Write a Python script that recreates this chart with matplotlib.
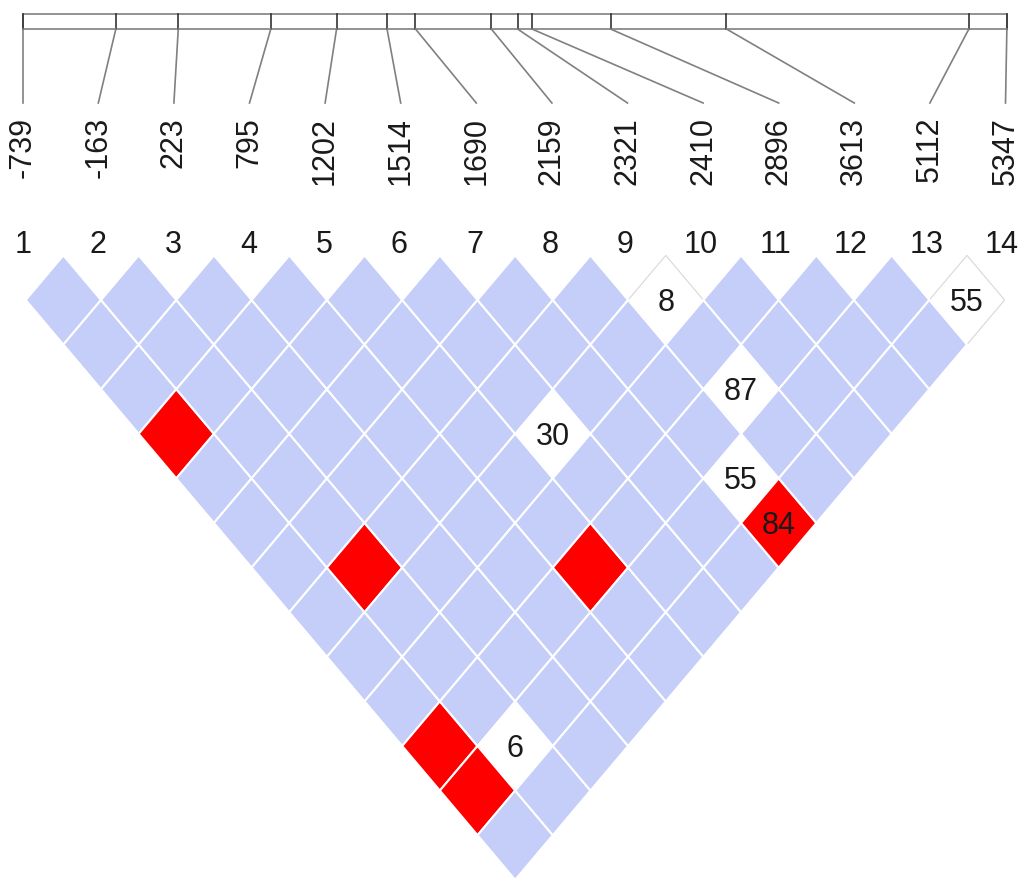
import numpy as np
import matplotlib
matplotlib.use("Agg")
import matplotlib.pyplot as plt
from matplotlib.patches import Polygon, Rectangle

# markers and their physical positions
marker_ids = list(range(1, 15))
positions = [-739, -163, 223, 795, 1202, 1514, 1690, 2159, 2321, 2410, 2896, 3613, 5112, 5347]

# pairs that are not the default light blue
white_pairs = [(9, 10), (13, 14), (9, 12), (6, 10), (8, 13), (2, 13)]
white_vals = [8, 55, 87, 30, 55, 6]
red_pairs = [(1, 5), (2, 9), (5, 12), (1, 12), (1, 13), (8, 14)]
red_vals = [None, None, None, None, None, 84]

blue = '#C4CEF8'
red = '#FF0000'

plt.rcParams['font.family'] = ['Liberation Sans', 'DejaVu Sans']

fig = plt.figure(figsize=(10.31, 8.92), dpi=100)
ax = fig.add_axes([0, 0, 1, 1])
# x in marker units, y in pixels from the top
px = 75.3
ax.set_xlim(1 - 22.7 / px, 1 + (1031 - 22.7) / px)
ax.set_ylim(892, 0)
ax.axis('off')

n = len(marker_ids)

# colour / text lookup
cell_col = {}
cell_txt = {}
for (i, j), v in zip(white_pairs, white_vals):
    cell_col[(i, j)] = 'white'
    cell_txt[(i, j)] = v
for (i, j), v in zip(red_pairs, red_vals):
    cell_col[(i, j)] = red
    if v is not None:
        cell_txt[(i, j)] = v

# LD diamonds
y0 = 300
pitch = 44.6
hw = 0.5
dx = 0.04

def diamond(i, j):
    cx = (i + j) / 2 + dx
    cy = y0 + (j - i - 1) * pitch
    return cx, cy, [(cx - hw, cy), (cx, cy - pitch), (cx + hw, cy), (cx, cy + pitch)]

# white cells first with a faint outline, coloured ones on top
for (i, j) in white_pairs:
    cx, cy, verts = diamond(i, j)
    ax.add_patch(Polygon(verts, closed=True, facecolor='white', edgecolor='#d8d8d8', lw=0.8, zorder=1))

for i in range(1, n + 1):
    for j in range(i + 1, n + 1):
        cx, cy, verts = diamond(i, j)
        c = cell_col.get((i, j), blue)
        if c != 'white':
            ax.add_patch(Polygon(verts, closed=True, facecolor=c, edgecolor='white', lw=1.5, zorder=2))
        if (i, j) in cell_txt:
            ax.text(cx, cy + 3, str(cell_txt[(i, j)]), ha='center', va='center',
                    fontsize=22, color='#1a1a1a', zorder=3)

# marker numbers
for k in marker_ids:
    ax.text(k, 253, str(k), ha='center', va='baseline', fontsize=22, color='#1a1a1a')

# physical map bar
pmin, pmax = min(positions), max(positions)
span = 13.07
bar_x = [1 + (p - pmin) / (pmax - pmin) * span for p in positions]
ax.add_patch(Rectangle((1, 14), span, 15, fill=False, edgecolor='#808080', lw=1.2))
for k, bx in zip(marker_ids, bar_x):
    ax.plot([bx, bx], [14, 29], color='#333333', lw=1.2)
    lx = 1 + (k - 1) * 75.6 / px
    ax.plot([bx, lx], [29, 103], color='#808080', lw=1.2)
    ax.text(lx, 117, str(positions[k - 1]), rotation=90, ha='center', va='top',
            fontsize=22, color='#1a1a1a')

fig.savefig('out.png', dpi=100)
